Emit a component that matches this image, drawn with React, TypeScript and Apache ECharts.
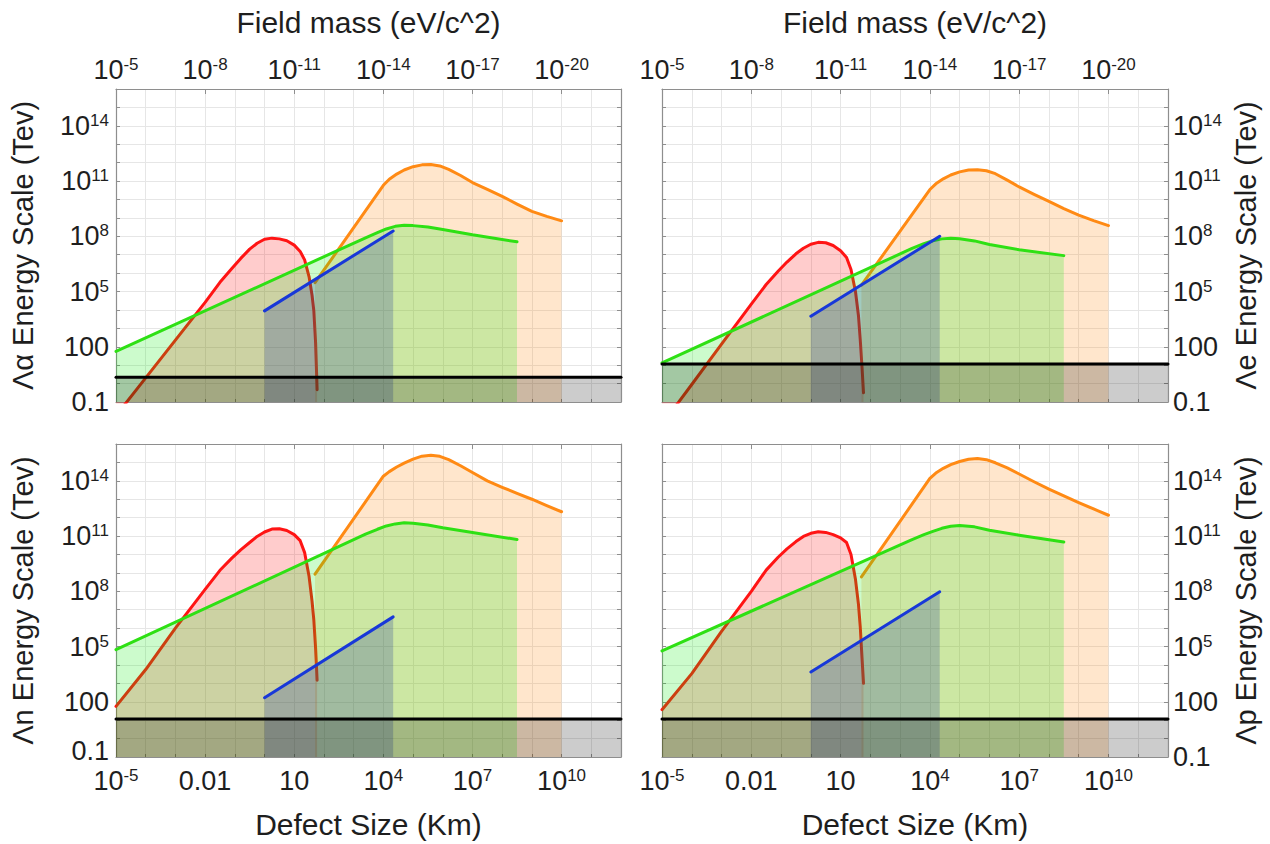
import React, { useEffect, useRef } from "react";
import * as echarts from "echarts";

// ---- sample positions along the defect-size axis (km) ----
const redKm = [1e-5, 1e-4, 1e-3, 0.01, 0.0316, 0.0794, 0.158, 0.316, 0.562, 1, 1.778, 3.162, 5.623, 10, 15.85, 22.39, 31.62, 39.81, 45.71, 52.48, 58.88];
const greenKm = [1e-5, 2512, 6310, 1.259e4, 2.512e4, 5.012e4, 1e5, 3.162e5, 1e6, 1e7, 3.162e8];
const orangeKm = [50.12, 1e4, 1.585e4, 2.818e4, 5.012e4, 1e5, 1.995e5, 3.981e5, 7.943e5, 1.585e6, 3.981e6, 1e7, 3.162e7, 1e8, 3.162e8, 1e9, 3.162e9, 1e10];
const blueKm = [1, 2.14e4];
const blackKm = [1e-5, 1e12];

// ---- energy scale values (TeV) : Λα ----
const redAlpha = [0.0182, 2.04, 229, 2.57e4, 3.16e5, 1.78e6, 6.31e6, 2.0e7, 4.17e7, 6.92e7, 7.94e7, 7.24e7, 5.75e7, 3.31e7, 1.51e7, 5.25e6, 6.31e5, 6.31e4, 8.91e3, 158, 0.468];
const greenAlpha = [56.2, 8.32e7, 1.58e8, 2.51e8, 3.47e8, 3.98e8, 3.8e8, 3.16e8, 2.34e8, 1.2e8, 5.01e7];
const orangeAlpha = [3.02e5, 5.89e10, 1.26e11, 2.4e11, 3.98e11, 6.03e11, 7.59e11, 7.94e11, 6.61e11, 4.27e11, 2.0e11, 8.32e10, 3.55e10, 1.48e10, 5.62e9, 2.24e9, 1.2e9, 6.92e8];
const blueAlpha = [8.91e3, 1.95e8];
const blackAlpha = [2.2, 2.2];

// ---- Λe ----
const redE = [6.03e-3, 0.891, 141, 2.09e4, 2.4e5, 1.26e6, 3.98e6, 1.12e7, 2.24e7, 3.72e7, 4.68e7, 4.47e7, 3.16e7, 1.66e7, 7.08e6, 1.58e6, 1e5, 5.01e3, 251, 7.94, 0.316];
const greenE = [13.2, 2.19e7, 3.98e7, 5.75e7, 7.24e7, 7.94e7, 7.41e7, 5.62e7, 3.55e7, 1.86e7, 8.91e6];
const orangeE = [2.24e5, 3.47e10, 7.08e10, 1.32e11, 2.14e11, 3.16e11, 3.98e11, 4.17e11, 3.63e11, 2.51e11, 1.12e11, 4.79e10, 1.91e10, 7.94e9, 3.16e9, 1.41e9, 7.08e8, 3.8e8];
const blueE = [4.57e3, 1e8];
const blackE = [11.5, 11.5];

// ---- Λn ----
const redN = [56.2, 5.62e3, 1e6, 1.26e8, 1.38e9, 6.31e9, 1.78e10, 4.47e10, 9.55e10, 1.66e11, 2.4e11, 2.51e11, 2.0e11, 1.2e11, 5.62e10, 1.26e10, 6.31e8, 2.82e7, 2.69e6, 7.94e4, 1.48e3];
const greenN = [6.76e4, 1.26e11, 2.34e11, 3.55e11, 4.57e11, 5.25e11, 5.01e11, 3.98e11, 2.82e11, 1.58e11, 6.46e10];
const orangeN = [8.51e8, 1.78e14, 3.16e14, 5.62e14, 9.12e14, 1.51e15, 2.19e15, 2.45e15, 2.14e15, 1.41e15, 6.61e14, 2.82e14, 1e14, 4.47e13, 2.09e13, 1e13, 4.47e12, 2.09e12];
const blueN = [166, 4.07e6];
const blackN = [11.5, 11.5];

// ---- Λp ----
const redP = [37.2, 3.39e3, 6.61e5, 1e8, 1.41e9, 7.08e9, 2.0e10, 5.01e10, 9.55e10, 1.41e11, 1.7e11, 1.58e11, 1.2e11, 7.94e10, 4.47e10, 1e10, 4.47e8, 2.0e7, 1.26e6, 2.51e4, 1e3];
const greenP = [5.75e4, 6.46e10, 1.2e11, 1.78e11, 2.63e11, 3.39e11, 3.72e11, 3.16e11, 2.09e11, 1.12e11, 4.79e10];
const orangeP = [6.03e8, 1.35e14, 2.63e14, 4.79e14, 7.59e14, 1.12e15, 1.48e15, 1.62e15, 1.41e15, 9.55e14, 5.01e14, 2.34e14, 8.91e13, 3.55e13, 1.51e13, 6.61e12, 2.95e12, 1.35e12];
const blueP = [4.17e3, 9.33e7];
const blackP = [11.5, 11.5];

// ---- axis ranges and texts ----
const kmExtent = [1e-5, 1e12];
const tevExtent = [0.1, 1e16];
const topTitle = "Field mass (eV/c^2)";
const bottomTitle = "Defect Size (Km)";
const yTitles = ["Λα Energy Scale (Tev)", "Λe Energy Scale (Tev)", "Λn Energy Scale (Tev)", "Λp Energy Scale (Tev)"];

const FONT = "'Liberation Sans', Arial, Helvetica, sans-serif";
const TEXT = "#1e1e1e";

const layout = [
  { left: 116, top: 89, width: 505, height: 313, ySide: "left", topLabels: true, bottomLabels: false },
  { left: 662, top: 89, width: 506, height: 313, ySide: "right", topLabels: true, bottomLabels: false },
  { left: 116, top: 444, width: 505, height: 313, ySide: "left", topLabels: false, bottomLabels: true },
  { left: 662, top: 444, width: 506, height: 313, ySide: "right", topLabels: false, bottomLabels: true },
];

const panelData = [
  { red: redAlpha, green: greenAlpha, orange: orangeAlpha, blue: blueAlpha, black: blackAlpha },
  { red: redE, green: greenE, orange: orangeE, blue: blueE, black: blackE },
  { red: redN, green: greenN, orange: orangeN, blue: blueN, black: blackN },
  { red: redP, green: greenP, orange: orangeP, blue: blueP, black: blackP },
];

const sup = (e: number) => `{b|10}{s|${e}}`;
const kmLabel = (v: number) => {
  const e = Math.round(v);
  if ((e + 5) % 3 !== 0 || e > 10) return "";
  if (e === -2) return "{b|0.01}";
  if (e === 1) return "{b|10}";
  return sup(e);
};
const massLabel = (v: number) => {
  const e = Math.round(v);
  if ((e + 5) % 3 !== 0 || e > 10) return "";
  return sup(-e - 10);
};
const tevLabel = (crowdedCorner: boolean) => (v: number) => {
  const e = Math.round(v);
  if ((e + 1) % 3 !== 0 || e > 14) return "";
  if (e === -1) return crowdedCorner ? "{u|0.1}" : "{b|0.1}";
  if (e === 2) return "{b|100}";
  return sup(e);
};

const rich = {
  b: { fontSize: 27, fontFamily: FONT, color: TEXT, lineHeight: 28 },
  s: { fontSize: 17, fontFamily: FONT, color: TEXT, verticalAlign: "top", lineHeight: 17 },
  u: { fontSize: 27, fontFamily: FONT, color: TEXT, lineHeight: 28, padding: [0, 0, 12, 0] },
};

const BORDER = "#8e8e8e";
const lg = (v: number) => Math.log10(v);

function buildOption() {
  const grid: any[] = [];
  const xAxis: any[] = [];
  const yAxis: any[] = [];
  const series: any[] = [];
  const graphic: any[] = [];

  layout.forEach((p, i) => {
    grid.push({ left: p.left, top: p.top, width: p.width, height: p.height, containLabel: false });
    // bottom: defect size
    xAxis.push({
      type: "value", gridIndex: i, position: "bottom", min: lg(kmExtent[0]), max: lg(kmExtent[1]), interval: 1,
      axisLine: { show: true, onZero: false, lineStyle: { color: BORDER, width: 1.2 } },
      axisTick: { show: true, inside: true, length: 3, lineStyle: { color: BORDER } },
      splitLine: { show: true, lineStyle: { color: "#e6e6e6", width: 1 } },
      axisLabel: { show: p.bottomLabels, formatter: kmLabel, rich, margin: 10, showMinLabel: true, showMaxLabel: true },
    });
    // top: field mass
    xAxis.push({
      type: "value", gridIndex: i, position: "top", min: lg(kmExtent[0]), max: lg(kmExtent[1]), interval: 3,
      axisLine: { show: true, onZero: false, lineStyle: { color: BORDER, width: 1.2 } },
      axisTick: { show: true, inside: true, length: 5, lineStyle: { color: BORDER } },
      splitLine: { show: false },
      axisLabel: { show: p.topLabels, formatter: massLabel, rich, margin: 5, showMinLabel: true, showMaxLabel: false },
    });
    const other = p.ySide === "left" ? "right" : "left";
    yAxis.push({
      type: "value", gridIndex: i, position: p.ySide, min: lg(tevExtent[0]), max: lg(tevExtent[1]), interval: 1,
      axisLine: { show: true, onZero: false, lineStyle: { color: BORDER, width: 1.2 } },
      axisTick: { show: true, inside: true, length: 4, lineStyle: { color: BORDER } },
      splitLine: { show: true, lineStyle: { color: "#e6e6e6", width: 1 } },
      axisLabel: {
        show: true, formatter: tevLabel(p.bottomLabels && p.ySide === "left"), rich,
        margin: p.ySide === "left" ? 7 : 5, showMinLabel: true, showMaxLabel: false,
      },
    });
    yAxis.push({
      type: "value", gridIndex: i, position: other, min: lg(tevExtent[0]), max: lg(tevExtent[1]), interval: 1,
      axisLine: { show: true, onZero: false, lineStyle: { color: BORDER, width: 1.2 } },
      axisTick: { show: true, inside: true, length: 4, lineStyle: { color: BORDER } },
      splitLine: { show: false },
      axisLabel: { show: false },
    });

    const d = panelData[i];
    const mk = (xs: number[], ys: number[], color: string, fill: string, width: number, z: number) => ({
      type: "line", xAxisIndex: 2 * i, yAxisIndex: 2 * i,
      data: xs.map((x, k) => [lg(x), lg(ys[k])]),
      symbol: "none", showSymbol: false, smooth: false, clip: true, silent: true, z,
      lineStyle: { color, width, join: "round", cap: "round" },
      areaStyle: { color: fill, origin: "start", opacity: 1 },
    });
    series.push(mk(redKm, d.red, "#ff1414", "rgba(255,0,0,0.2)", 3, 2));
    series.push(mk(orangeKm, d.orange, "#ff8a14", "rgba(255,128,0,0.2)", 3, 3));
    series.push(mk(greenKm, d.green, "#2ee014", "rgba(0,235,0,0.2)", 3, 4));
    series.push(mk(blueKm, d.blue, "#1838d8", "rgba(10,30,150,0.22)", 3, 5));
    series.push(mk(blackKm, d.black, "#000000", "rgba(0,0,0,0.2)", 3, 6));

    const cx = p.left + p.width / 2;
    const cy = p.top + p.height / 2;
    if (p.topLabels) {
      graphic.push({ type: "text", x: cx, y: 22, style: { text: topTitle, font: `30px ${FONT}`, fill: TEXT, align: "center", verticalAlign: "middle" } });
    }
    if (p.bottomLabels) {
      graphic.push({ type: "text", x: cx, y: 824, style: { text: bottomTitle, font: `30px ${FONT}`, fill: TEXT, align: "center", verticalAlign: "middle" } });
    }
    const tx = p.ySide === "left" ? 23 : 1246;
    graphic.push({ type: "text", x: tx, y: cy, rotation: Math.PI / 2, style: { text: yTitles[i], font: `29px ${FONT}`, fill: TEXT, align: "center", verticalAlign: "middle" } });
  });

  return { animation: false, backgroundColor: "#ffffff", grid, xAxis, yAxis, series, graphic };
}

export default function App() {
  const ref = useRef<HTMLDivElement>(null);
  useEffect(() => {
    document.body.style.margin = "0";
    const chart = echarts.init(ref.current!, null, { renderer: "svg" });
    chart.setOption(buildOption() as any);
    return () => chart.dispose();
  }, []);
  return <div ref={ref} style={{ position: "fixed", left: 0, top: 0, width: 1270, height: 844 }} />;
}
